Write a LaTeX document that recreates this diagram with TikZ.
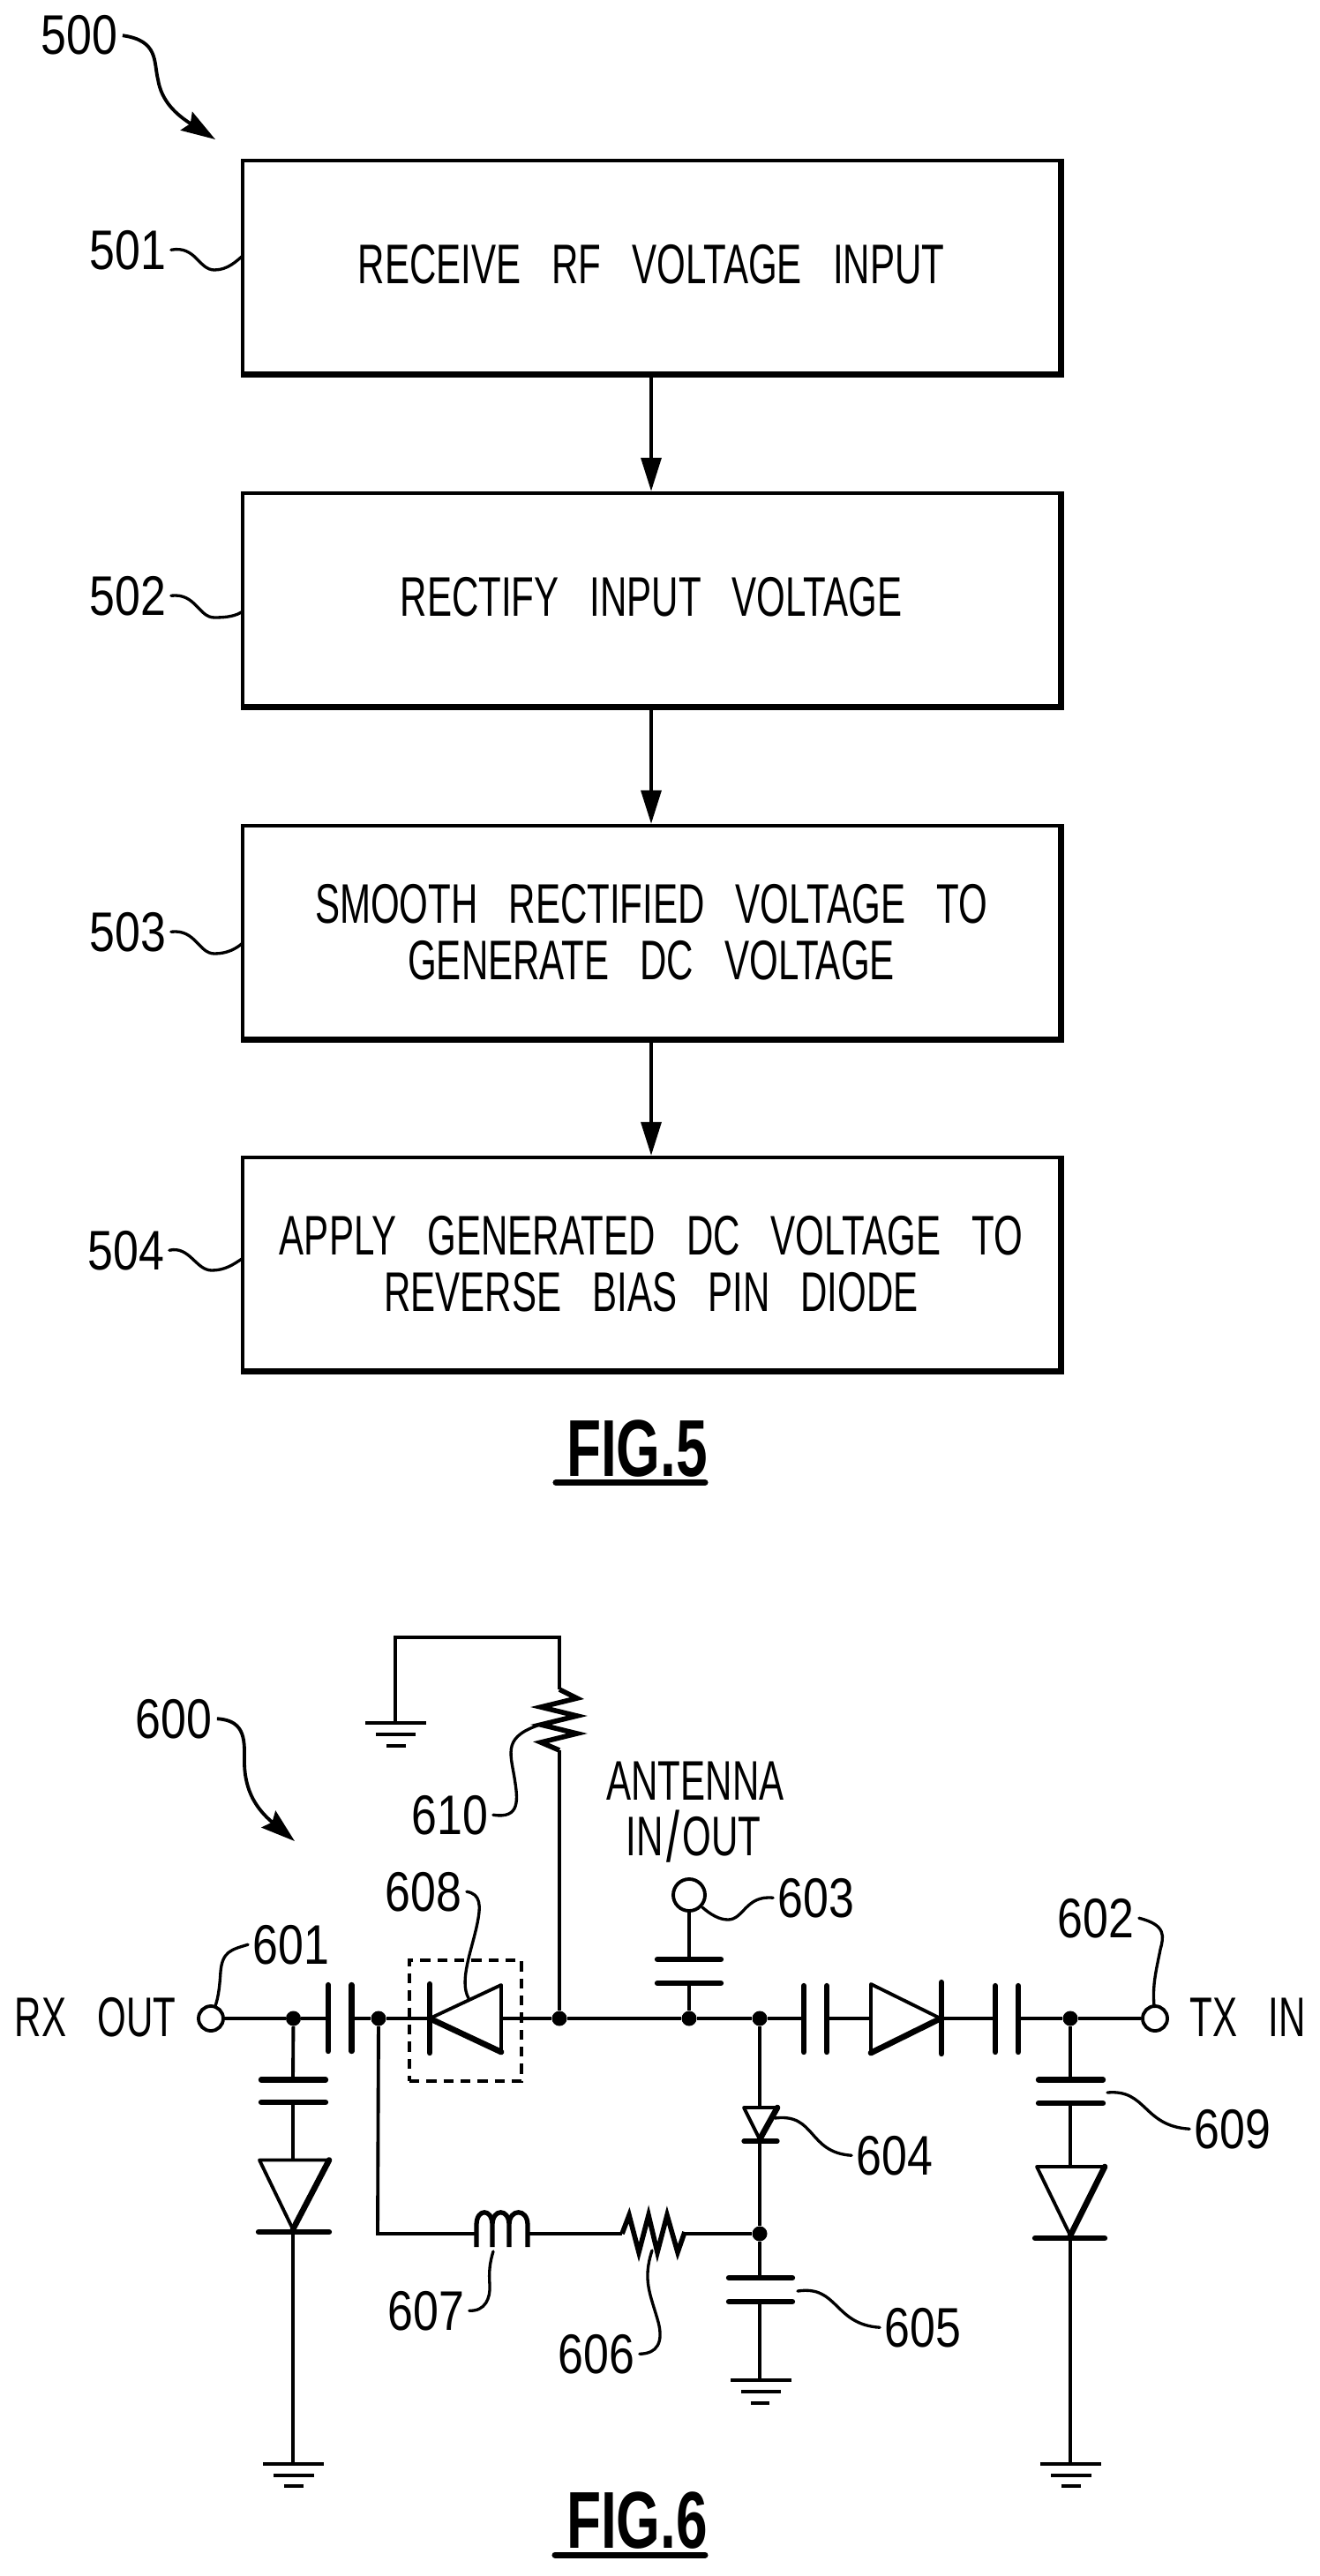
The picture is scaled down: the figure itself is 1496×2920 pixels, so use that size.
\documentclass[tikz,border=0pt]{standalone}
\usepackage{fontspec}
\setmainfont{Liberation Sans}
\newfontfamily\lab[FakeStretch=.82]{Liberation Sans}
\newfontfamily\txtf[FakeStretch=.665,WordSpace=3]{Liberation Sans}
\newfontfamily\figf[FakeStretch=.70]{Liberation Sans}
\usetikzlibrary{arrows.meta}
\tikzset{
  box/.style={draw,line width=2.5pt,minimum width=18.52cm,minimum height=4.82cm,inner sep=0pt,
    align=center,font=\txtf\fontsize{36}{36.4}\selectfont},
  ref/.style={anchor=base,inner sep=0pt,inner xsep=3pt,font=\lab\fontsize{36}{38}\selectfont},
  sig/.style={anchor=base,inner sep=0pt,font=\txtf\fontsize{36}{38}\selectfont},
  figlab/.style={anchor=base,inner sep=0pt,font=\figf\bfseries\fontsize{52}{54}\selectfont},
  flow/.style={line width=2.1pt,-{Stealth[length=21.6pt,width=13pt,inset=0pt]}},
  lead/.style={line width=1.9pt,line cap=round},
  bigarrow/.style={line width=2.2pt,-{Stealth[length=22pt,width=14pt,inset=3pt]}},
  wire/.style={line width=2.2pt},
  dot/.style={circle,fill=black,inner sep=0pt,minimum size=.34cm},
  term/.style={circle,draw,line width=2.2pt,fill=white,inner sep=0pt,minimum size=.56cm},
  plate/.style={line width=3.6pt,line cap=round},
  gnd/.style={line width=2.8pt},
  edge1/.style={line width=2.2pt,line cap=round,line join=round},
  edge2/.style={line width=3.8pt,line cap=round},
  dashbox/.style={draw,dashed,line width=2pt,dash pattern=on 6.5pt off 4.5pt,minimum width=2.54cm,minimum height=2.74cm,inner sep=0pt},
}
\begin{document}
\begin{tikzpicture}[x=0.02cm,y=-0.02cm]
\useasboundingbox[fill=white] (0,0) rectangle (1496,2920);

% ---------- FIG. 5 ----------
\node[box] (b1) at (738,302.5) {\raisebox{3.5pt}{RECEIVE RF VOLTAGE INPUT}};
\node[box] (b2) at (738,679.5) {\raisebox{3pt}{RECTIFY INPUT VOLTAGE}};
\node[box] (b3) at (738,1056.5) {SMOOTH RECTIFIED VOLTAGE TO\\GENERATE DC VOLTAGE};
\node[box] (b4) at (738,1432.5) {APPLY GENERATED DC VOLTAGE TO\\REVERSE BIAS PIN DIODE};
\foreach \b in {b1,b2,b3,b4}
  \draw[line width=3.6pt,line join=miter] (\b.south west) -- (\b.south east) -- (\b.north east);
\draw[flow] (b1) -- (b2);
\draw[flow] (b2) -- (b3);
\draw[flow] (b3) -- (b4);

\node[ref] (l500) at (90,62) {500};
\node[ref] (l501) at (145,305) {501};
\node[ref] (l502) at (145,697) {502};
\node[ref] (l503) at (145,1078) {503};
\node[ref] (l504) at (143,1439) {504};
\coordinate (e500) at (244,158);
\coordinate (e501) at (275,290);
\coordinate (e502) at (275,693);
\coordinate (e503) at (275,1069);
\coordinate (e504) at (274,1427);
\draw[bigarrow] (l500.east) .. controls (180,46) and (174,70) .. (179,90) .. controls (183,115) and (200,130) .. (e500);
\draw[lead] (l501.east) .. controls (222,278) and (225,306) .. (243,306) .. controls (258,306) and (268,296) .. (e501);
\draw[lead] (l502.east) .. controls (222,672) and (225,700) .. (243,700) .. controls (258,700) and (268,698) .. (e502);
\draw[lead] (l503.east) .. controls (222,1053) and (225,1081) .. (243,1081) .. controls (258,1081) and (268,1075) .. (e503);
\draw[lead] (l504.east) .. controls (215,1412) and (222,1440) .. (240,1440) .. controls (255,1440) and (265,1433) .. (e504);

\node[figlab] (f5) at (722,1673) {FIG.5};
\coordinate (u5a) at (630,1680.5);
\coordinate (u5b) at (799,1680.5);
\draw[line width=4pt,line cap=round] (u5a) -- (u5b);

% ---------- FIG. 6 ----------
\node[dashbox] (d608) at (527.5,2290.5) {};

% main line points
\node[term] (t601) at (239,2288) {};
\node[dot] (j1) at (332.5,2288) {};
\coordinate (c1a) at (372,2288);
\coordinate (c1b) at (398.5,2288);
\node[dot] (j2) at (429,2288) {};
\coordinate (d1a) at (487,2288);
\coordinate (d1b) at (568,2288);
\node[dot] (j3) at (634,2288) {};
\node[dot] (j4) at (781,2288) {};
\node[dot] (j5) at (861,2288) {};
\coordinate (c2a) at (911,2288);
\coordinate (c2b) at (937,2288);
\coordinate (d2a) at (987,2288);
\coordinate (d2b) at (1067,2288);
\coordinate (c3a) at (1128,2288);
\coordinate (c3b) at (1154,2288);
\node[dot] (j6) at (1213,2288) {};
\node[term] (t602) at (1309,2288) {};
\node[term,minimum size=.72cm] (t603) at (781,2148) {};

\draw[wire] (t601) -- (j1) -- (c1a);
\draw[wire] (c1b) -- (j2) -- (d1a);
\draw[wire] (d1b) -- (j3) -- (j4) -- (j5) -- (c2a);
\draw[wire] (c2b) -- (d2a);
\draw[wire] (d2b) -- (c3a);
\draw[wire] (c3b) -- (j6) -- (t602);

% series capacitors
\draw[plate] (372,2250) -- (372,2325);
\draw[plate] (398.5,2250) -- (398.5,2325);
\draw[plate] (911,2251) -- (911,2326);
\draw[plate] (937,2251) -- (937,2326);
\draw[plate] (1128,2251) -- (1128,2326);
\draw[plate] (1154,2251) -- (1154,2326);

% diode 608
\draw[plate] (487,2249) -- (487,2327);
\draw[edge1] (487,2288) -- (568,2250) -- (568,2326);
\draw[edge2] (487,2288) -- (568,2326);
% right series diode
\draw[edge1] (1066,2288) -- (987,2249) -- (987,2327);
\draw[edge2] (987,2327) -- (1066,2288);
\draw[plate] (1067,2247) -- (1067,2328);

% left shunt branch
\coordinate (c4a) at (332,2357.5);
\coordinate (c4b) at (332,2383);
\coordinate (d4a) at (332,2448.5);
\coordinate (d4b) at (332,2530);
\coordinate (g1) at (332,2793);
\draw[wire] (j1) -- (c4a);
\draw[wire] (c4b) -- (d4a);
\draw[wire] (d4b) -- (g1);
\draw[plate] (296,2357.5) -- (369,2357.5);
\draw[plate] (296,2383) -- (369,2383);
\draw[edge1] (332,2527) -- (294,2448.5) -- (373,2448.5);
\draw[edge2] (373,2448.5) -- (332,2527);
\draw[plate] (293,2530) -- (373,2530);
\draw[gnd] (298,2793) -- (367,2793);
\draw[gnd] (310,2806) -- (356,2806);
\draw[gnd] (322,2818) -- (344,2818);

% right shunt branch
\coordinate (c5a) at (1213,2357.5);
\coordinate (c5b) at (1213,2384);
\coordinate (d5a) at (1213,2456);
\coordinate (d5b) at (1213,2537);
\coordinate (g2) at (1213,2793);
\draw[wire] (j6) -- (c5a);
\draw[wire] (c5b) -- (d5a);
\draw[wire] (d5b) -- (g2);
\draw[plate] (1177,2357.5) -- (1250,2357.5);
\draw[plate] (1177,2384) -- (1250,2384);
\draw[edge1] (1213,2534) -- (1175,2456) -- (1252,2456);
\draw[edge2] (1252,2456) -- (1213,2534);
\draw[plate] (1173,2537) -- (1252,2537);
\draw[gnd] (1179,2793) -- (1248,2793);
\draw[gnd] (1191,2806) -- (1237,2806);
\draw[gnd] (1203,2818) -- (1225,2818);

% antenna branch
\coordinate (c6a) at (781,2221);
\coordinate (c6b) at (781,2248);
\draw[wire] (t603) -- (c6a);
\draw[wire] (c6b) -- (j4);
\draw[plate] (745,2221) -- (817,2221);
\draw[plate] (745,2248) -- (817,2248);

% diode 604 and capacitor 605
\coordinate (d7a) at (861,2389);
\coordinate (d7b) at (861,2427);
\node[dot] (j7) at (861,2532) {};
\coordinate (c7a) at (861,2582);
\coordinate (c7b) at (861,2609);
\coordinate (g3) at (861,2698);
\draw[wire] (j5) -- (d7a);
\draw[wire] (d7b) -- (j7) -- (c7a);
\draw[wire] (c7b) -- (g3);
\draw[edge1] (861,2425) -- (843,2389) -- (881,2389);
\draw[edge2] (881,2389) -- (861,2425);
\draw[line width=3pt,line cap=round] (843,2427) -- (881,2427);
\draw[plate] (826,2582) -- (898,2582);
\draw[plate] (826,2609) -- (898,2609);
\draw[gnd] (828,2698) -- (897,2698);
\draw[gnd] (840,2711) -- (885,2711);
\draw[gnd] (851,2724) -- (872,2724);

% bias path: inductor 607, resistor 606
\coordinate (i1) at (428,2532);
\coordinate (i2) at (540,2532);
\coordinate (i3) at (598,2532);
\coordinate (r1) at (705,2532);
\coordinate (r2) at (776,2532);
\draw[wire] (j2) -- (i1) -- (i2);
\draw[wire] (i3) -- (r1);
\draw[wire] (r2) -- (j7);
\draw[line width=3pt,line join=round]
  (540,2547) -- (540,2522) .. controls (540,2503) and (558,2503) .. (558,2522) -- (558,2547)
  (558,2522) .. controls (558,2503) and (577,2503) .. (577,2522) -- (577,2547)
  (577,2522) .. controls (577,2503) and (598,2503) .. (598,2522) -- (598,2547);
\draw[line width=3.2pt,line join=miter]
  (r1) -- (713,2511) -- (724,2553) -- (735,2511) -- (745,2553) -- (756,2511) -- (768,2553) -- (776,2530);

% resistor 610 and ground
\coordinate (r3) at (634,1984);
\coordinate (r4) at (634,1915);
\coordinate (w1) at (634,1856);
\coordinate (w2) at (448,1856);
\coordinate (g4) at (448,1953);
\draw[wire] (j3) -- (r3);
\draw[wire,line join=miter] (r4) -- (w1) -- (w2) -- (g4);
\draw[line width=3.2pt,line join=miter]
  (r4) -- (654,1925) -- (613,1935) -- (654,1945) -- (613,1955) -- (654,1965) -- (613,1975) -- (r3);
\draw[gnd] (414,1953) -- (483,1953);
\draw[gnd] (426,1966) -- (471,1966);
\draw[gnd] (438,1979) -- (460,1979);

% texts
\node[sig] (rx) at (108,2308) {RX OUT};
\node[sig] (tx) at (1414,2308) {TX IN};
\node[sig] (ant1) at (788,2040) {ANTENNA};
\node[sig] (ant2) at (786,2103) {IN\kern2pt\raisebox{-4pt}{\fontsize{46}{46}\selectfont/}\kern2pt OUT};

\node[ref] (l600) at (197,1970) {600};
\node[ref] (l601) at (330,2226) {601};
\node[ref] (l602) at (1242,2196) {602};
\node[ref] (l603) at (925,2173) {603};
\node[ref] (l604) at (1014,2465) {604};
\node[ref] (l605) at (1046,2660) {605};
\node[ref] (l606) at (676,2690) {606};
\node[ref] (l607) at (483,2641) {607};
\node[ref] (l608) at (480,2166) {608};
\node[ref] (l609) at (1397,2435) {609};
\node[ref] (l610) at (510,2079) {610};

\coordinate (e600) at (334,2087);
\coordinate (e601) at (244,2274);
\coordinate (e602) at (1308,2274);
\coordinate (e603) at (796,2162);
\coordinate (e604) at (878,2401);
\coordinate (e605) at (904,2597);
\coordinate (e606) at (739,2551);
\coordinate (e607) at (559,2552);
\coordinate (e608) at (531,2265);
\coordinate (e609) at (1255,2372);
\coordinate (e610) at (615,1954);

\draw[bigarrow] (l600.east) .. controls (280,1950) and (277,1975) .. (277,2000) .. controls (278,2030) and (290,2050) .. (e600);
\draw[lead] (l601.west) .. controls (262,2210) and (252,2212) .. (250,2235) .. controls (249,2250) and (248,2262) .. (e601);
\draw[lead] (l602.east) .. controls (1322,2182) and (1319,2195) .. (1315,2210) .. controls (1310,2235) and (1306,2250) .. (e602);
\draw[lead] (l603.west) .. controls (845,2148) and (843,2176) .. (825,2176) .. controls (815,2176) and (805,2170) .. (e603);
\draw[lead] (e604) .. controls (925,2395) and (915,2440) .. (l604.west);
\draw[lead] (e605) .. controls (950,2590) and (945,2635) .. (l605.west);
\draw[lead] (l606.east) .. controls (745,2668) and (752,2655) .. (746,2632) .. controls (737,2600) and (728,2585) .. (e606);
\draw[lead] (l607.east) .. controls (550,2620) and (556,2605) .. (555,2590) .. controls (554,2575) and (555,2565) .. (e607);
\draw[lead] (l608.east) .. controls (545,2147) and (545,2160) .. (541,2180) .. controls (535,2210) and (520,2245) .. (e608);
\draw[lead] (e609) .. controls (1300,2368) and (1295,2410) .. (l609.west);
\draw[lead] (l610.east) .. controls (590,2062) and (587,2040) .. (583,2015) .. controls (578,1985) and (570,1968) .. (e610);

\node[figlab] (f6) at (722,2888) {FIG.6};
\coordinate (u6a) at (629,2896);
\coordinate (u6b) at (799,2896);
\draw[line width=4pt,line cap=round] (u6a) -- (u6b);
\end{tikzpicture}
\end{document}
